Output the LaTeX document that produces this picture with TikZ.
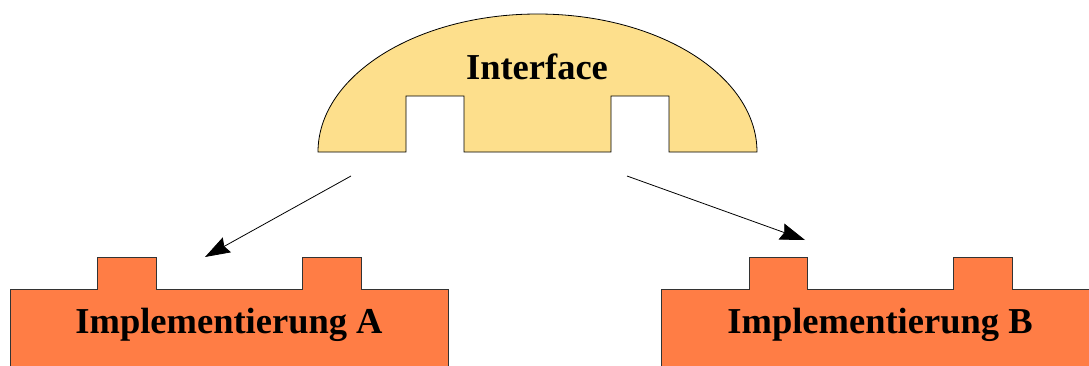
\documentclass[tikz,border=0pt]{standalone}
\usepackage{fontspec}
\setmainfont{Liberation Serif}
\usetikzlibrary{arrows.meta}
\definecolor{domegelb}{HTML}{FDDF8C}
\definecolor{blockorange}{HTML}{FF7D45}
\begin{document}
\begin{tikzpicture}[x=1pt,y=1pt,>={Stealth[length=25pt,width=17pt,inset=3pt]},line width=0.8pt]
\tikzstyle{dome}=[fill=domegelb,draw=black]
\tikzstyle{impl}=[fill=blockorange,draw=black!80]
\tikzstyle{label}=[font=\fontsize{36.5}{40}\selectfont\bfseries,anchor=base]
\clip (0,0) rectangle (1089,365);
% Interface
\path[dome] (318,213) arc[start angle=180,end angle=0,x radius=219.5,y radius=138]
  -- (669,213) -- (669,269) -- (611,269) -- (611,213) -- (464,213)
  -- (464,269) -- (406,269) -- (406,213) -- cycle;
\node[label] (iface) at (537,285) {Interface};
% Implementierungen
\path[impl] (10,-5) -- (10,76) -- (97,76) -- (97,108) -- (156,108) -- (156,76)
  -- (302,76) -- (302,108) -- (361,108) -- (361,76) -- (448,76) -- (448,-5);
\node[label] (implA) at (229,32) {Implementierung A};
\path[impl] (661,-5) -- (661,76) -- (749,76) -- (749,108) -- (807,108) -- (807,76)
  -- (953,76) -- (953,108) -- (1012,108) -- (1012,76) -- (1099,76) -- (1099,-5);
\node[label] (implB) at (880,32) {Implementierung B};
\coordinate (fromA) at (351,189);
\coordinate (toA) at (205,108);
\coordinate (fromB) at (627,189);
\coordinate (toB) at (805,125);
\draw[->] (fromA) -- (toA);
\draw[->] (fromB) -- (toB);
\end{tikzpicture}
\end{document}
